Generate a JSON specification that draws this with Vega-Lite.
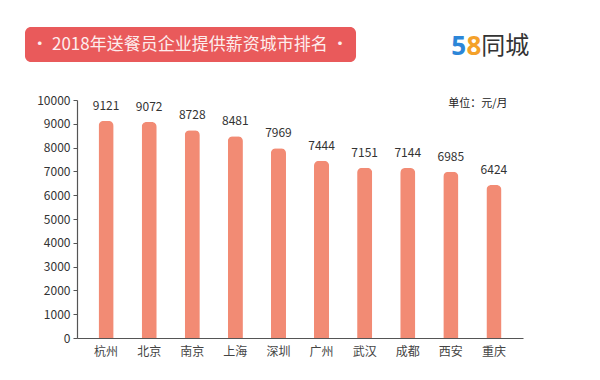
{
  "$schema": "https://vega.github.io/schema/vega-lite/v6.json",
  "width": 446,
  "height": 238,
  "autosize": {"type": "none"},
  "padding": {"left": 77, "top": 100, "right": 77, "bottom": 42},
  "background": "white",
  "config": {"view": {"stroke": null}, "font": "Noto Sans CJK SC"},
  "layer": [
    {
      "data": {"values": [
        {"city": "杭州", "salary": 9121},
        {"city": "北京", "salary": 9072},
        {"city": "南京", "salary": 8728},
        {"city": "上海", "salary": 8481},
        {"city": "深圳", "salary": 7969},
        {"city": "广州", "salary": 7444},
        {"city": "武汉", "salary": 7151},
        {"city": "成都", "salary": 7144},
        {"city": "西安", "salary": 6985},
        {"city": "重庆", "salary": 6424}
      ]},
      "encoding": {
        "x": {"field": "city", "type": "nominal", "sort": null,
          "scale": {"paddingInner": 0.65, "paddingOuter": 0.5},
          "axis": {"title": null, "labelAngle": 0, "ticks": false, "domainColor": "#555", "domainWidth": 1.2, "labelColor": "#444", "labelFontSize": 12, "labelPadding": 8}},
        "y": {"field": "salary", "type": "quantitative",
          "scale": {"domain": [0, 10000], "nice": false},
          "axis": {"title": null, "grid": false, "format": "d", "values": [0, 1000, 2000, 3000, 4000, 5000, 6000, 7000, 8000, 9000, 10000], "domainColor": "#555", "domainWidth": 1.2, "tickColor": "#555", "tickSize": 4, "labelColor": "#333", "labelFontSize": 12, "labelPadding": 3}}
      },
      "layer": [
        {"mark": {"type": "bar", "color": "#F28B74", "cornerRadiusTopLeft": 5, "cornerRadiusTopRight": 5}},
        {"mark": {"type": "text", "dy": -15, "baseline": "middle", "fontSize": 12, "color": "#333"},
          "encoding": {"text": {"field": "salary", "type": "quantitative", "format": "d"}}}
      ]
    },
    {
      "data": {"values": [
        {"kind": "pill", "x0": -1.166, "x1": 6.256, "y0": 11597, "y1": 13067}
      ]},
      "mark": {"type": "rect", "color": "#E95A5B", "cornerRadius": 6},
      "encoding": {
        "x": {"field": "x0", "type": "quantitative", "scale": {"domain": [0, 10], "nice": false, "zero": false}, "axis": null},
        "x2": {"field": "x1"},
        "y": {"field": "y0", "type": "quantitative", "scale": {"domain": [0, 10000], "nice": false}, "axis": null},
        "y2": {"field": "y1"}
      }
    },
    {
      "data": {"values": [
        {"label": "•  2018年送餐员企业提供薪资城市排名  •", "x": 2.53, "y": 12311, "size": 17, "color": "#FDEDED"},
        {"label": "同城", "x": 9.6, "y": 12227, "size": 24, "color": "#333333"},
        {"label": "单位：元/月", "x": 8.99, "y": 9832, "size": 11, "color": "#222222"}
      ]},
      "mark": {"type": "text", "baseline": "middle", "align": "center"},
      "encoding": {
        "x": {"field": "x", "type": "quantitative", "scale": {"domain": [0, 10], "nice": false, "zero": false}, "axis": null},
        "y": {"field": "y", "type": "quantitative", "scale": {"domain": [0, 10000], "nice": false}, "axis": null},
        "text": {"field": "label"},
        "size": {"field": "size", "type": "quantitative", "scale": null, "legend": null},
        "color": {"field": "color", "type": "nominal", "scale": null, "legend": null}
      }
    },
    {
      "data": {"values": [
        {"label": "5", "x": 8.56, "y": 12227, "color": "#2C86D8"},
        {"label": "8", "x": 8.9, "y": 12227, "color": "#F4A12A"}
      ]},
      "mark": {"type": "text", "baseline": "middle", "align": "center", "font": "Open Sans", "fontWeight": "bold", "fontSize": 26},
      "encoding": {
        "x": {"field": "x", "type": "quantitative", "scale": {"domain": [0, 10], "nice": false, "zero": false}, "axis": null},
        "y": {"field": "y", "type": "quantitative", "scale": {"domain": [0, 10000], "nice": false}, "axis": null},
        "text": {"field": "label"},
        "color": {"field": "color", "type": "nominal", "scale": null, "legend": null}
      }
    }
  ],
  "resolve": {"scale": {"x": "independent", "y": "independent"}}
}
